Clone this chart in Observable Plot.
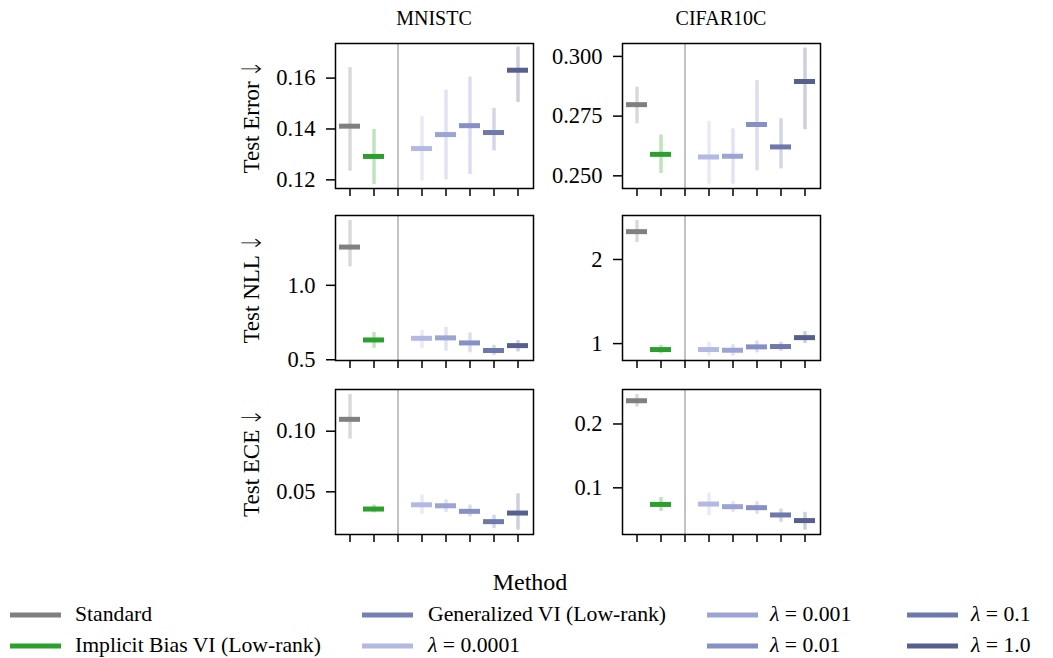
<!DOCTYPE html>
<html>
<head>
<meta charset="utf-8">
<script src="https://cdn.jsdelivr.net/npm/d3@7"></script>
<script src="https://cdn.jsdelivr.net/npm/@observablehq/plot@0.6"></script>
<style>
  body { margin: 0; background: #fff; }
  #root { position: relative; width: 1053px; height: 658px; font-family: "Liberation Serif", serif; color: #000; }
  .abs { position: absolute; }
  .title { font-size: 20px; transform: translate(-50%, -50%); white-space: nowrap; line-height: 1; }
  .lg { font-size: 21.7px; white-space: nowrap; line-height: 1; transform: translateY(-50%); }
  .sw { position: absolute; height: 5px; width: 51px; transform: translateY(-50%); }
  .ylab { font-size: 23px; white-space: nowrap; line-height: 1; transform: translate(-50%, -50%) rotate(-90deg); }
  .arr { font-family: "DejaVu Sans", sans-serif; font-size: 20px; font-weight: 300; display: inline-block; transform: scaleY(1.35); margin-left: 4px; }
</style>
</head>
<body>
<div id="root"></div>
<script>
// ---- data ----
const methods = ["Standard", "Implicit Bias VI (Low-rank)", "Generalized VI (Low-rank)",
  "λ = 0.0001", "λ = 0.001", "λ = 0.01", "λ = 0.1", "λ = 1.0"];
const dataMethods = ["Standard", "Implicit Bias VI (Low-rank)",
  "λ = 0.0001", "λ = 0.001", "λ = 0.01", "λ = 0.1", "λ = 1.0"];
const methodColors = ["#808080", "#2ca02c", "#7780b5", "#b3b9e2", "#9ca3d5", "#8790c6", "#6e78ac", "#575f8f"];
const datasets = ["MNISTC", "CIFAR10C"];
const metricLabels = ["Test Error", "Test NLL", "Test ECE"];

const mnistcErrMean = [0.1411, 0.1292, 0.1323, 0.1378, 0.1413, 0.1386, 0.1631];
const mnistcErrLo   = [0.1234, 0.1182, 0.1195, 0.1200, 0.1221, 0.1314, 0.1504];
const mnistcErrHi   = [0.1641, 0.1398, 0.1450, 0.1552, 0.1604, 0.1481, 0.1722];
const cifarErrMean  = [0.2798, 0.2590, 0.2579, 0.2582, 0.2715, 0.2621, 0.2895];
const cifarErrLo    = [0.2718, 0.2510, 0.2465, 0.2465, 0.2521, 0.2529, 0.2693];
const cifarErrHi    = [0.2871, 0.2671, 0.2728, 0.2697, 0.2899, 0.2739, 0.3035];
const mnistcNllMean = [1.257, 0.633, 0.644, 0.647, 0.613, 0.562, 0.595];
const mnistcNllLo   = [1.124, 0.577, 0.577, 0.557, 0.547, 0.529, 0.553];
const mnistcNllHi   = [1.435, 0.684, 0.697, 0.717, 0.680, 0.597, 0.629];
const cifarNllMean  = [2.331, 0.929, 0.929, 0.921, 0.961, 0.965, 1.071];
const cifarNllLo    = [2.201, 0.878, 0.850, 0.850, 0.890, 0.909, 1.000];
const cifarNllHi    = [2.465, 0.980, 1.016, 0.988, 1.031, 1.016, 1.142];
const mnistcEceMean = [0.1098, 0.0358, 0.0393, 0.0385, 0.0339, 0.0254, 0.0325];
const mnistcEceLo   = [0.0934, 0.0325, 0.0314, 0.0330, 0.0293, 0.0197, 0.0183];
const mnistcEceHi   = [0.1303, 0.0391, 0.0473, 0.0434, 0.0391, 0.0306, 0.0484];
const cifarEceMean  = [0.2364, 0.0740, 0.0746, 0.0705, 0.0689, 0.0575, 0.0487];
const cifarEceLo    = [0.2264, 0.0631, 0.0565, 0.0616, 0.0585, 0.0460, 0.0336];
const cifarEceHi    = [0.2462, 0.0849, 0.0918, 0.0782, 0.0782, 0.0668, 0.0616];

const yTicks = [[0.12, 0.14, 0.16], [0.25, 0.275, 0.30], [0.5, 1.0], [1, 2], [0.05, 0.10], [0.1, 0.2]];
const yDomains = [[0.1166, 0.1736], [0.2447, 0.3054], [0.495, 1.469], [0.799, 2.523], [0.0148, 0.1344], [0.0269, 0.254]];
const yFormats = [".2f", ".3f", ".1f", ".0f", ".2f", ".1f"];

// ---- layout ----
const root = document.getElementById("root");
const colX = [335, 622];
const rowY = [43, 215, 389];
const frameW = 198, frameH = 145;
const colorOf = m => methodColors[methods.indexOf(m)];

const panels = [
  [mnistcErrMean, mnistcErrLo, mnistcErrHi],
  [cifarErrMean, cifarErrLo, cifarErrHi],
  [mnistcNllMean, mnistcNllLo, mnistcNllHi],
  [cifarNllMean, cifarNllLo, cifarNllHi],
  [mnistcEceMean, mnistcEceLo, mnistcEceHi],
  [cifarEceMean, cifarEceLo, cifarEceHi]
];

panels.forEach(([mean, lo, hi], k) => {
  const row = Math.floor(k / 2), col = k % 2;
  const rows = dataMethods.map((m, i) => ({method: m, mean: mean[i], lo: lo[i], hi: hi[i], color: colorOf(m)}));
  const ml = 80, mt = 4, mr = 4, mb = 14;
  const chart = Plot.plot({
    width: ml + frameW + mr,
    height: mt + frameH + mb,
    marginLeft: ml, marginTop: mt, marginRight: mr, marginBottom: mb,
    style: {fontFamily: "Liberation Serif, serif", fontSize: "22.5px", color: "#000", background: "transparent", overflow: "visible"},
    x: {type: "band", domain: methods, paddingInner: 0.12, paddingOuter: 0.06},
    y: {domain: yDomains[k], ticks: yTicks[k]},
    color: {type: "identity"},
    marks: [
      Plot.ruleX([methods[2]], {x: d => d, stroke: "#999", strokeWidth: 1.2}),
      Plot.ruleX(rows, {x: "method", y1: "lo", y2: "hi", stroke: "color", strokeOpacity: 0.3, strokeWidth: 3.5}),
      Plot.tickY(rows, {x: "method", y: "mean", stroke: "color", strokeWidth: 5}),
      Plot.frame({stroke: "#000", strokeWidth: 1.5}),
      Plot.axisX({tickSize: 8, tickFormat: () => "", label: null, strokeWidth: 1.5}),
      Plot.axisY({
        ticks: yTicks[k], tickFormat: d3.format(yFormats[k]), tickSize: 9, tickPadding: 11, strokeWidth: 1.5,
        fontSize: 22.5, label: null
      })
    ]
  });
  chart.style.position = "absolute";
  chart.style.left = (colX[col] - ml) + "px";
  chart.style.top = (rowY[row] - mt) + "px";
  root.appendChild(chart);
});

// y labels
metricLabels.forEach((t, r) => {
  const d = document.createElement("div");
  d.className = "abs ylab";
  d.innerHTML = t + '<span class="arr">↓</span>';
  d.style.left = "251px";
  d.style.top = (rowY[r] + frameH / 2 + 1) + "px";
  root.appendChild(d);
});

// titles
datasets.forEach((t, c) => {
  const d = document.createElement("div");
  d.className = "abs title";
  d.textContent = t;
  d.style.left = (colX[c] + frameW / 2) + "px";
  d.style.top = "18px";
  root.appendChild(d);
});

// legend
const lgTitle = document.createElement("div");
lgTitle.className = "abs title";
lgTitle.textContent = "Method";
lgTitle.style.fontSize = "24px";
lgTitle.style.left = "530px";
lgTitle.style.top = "582px";
root.appendChild(lgTitle);

const swX = [10, 362, 707, 907];
const txX = [75, 428, 770, 971];
const lgY = [615, 646];
methods.forEach((m, i) => {
  const c = Math.floor(i / 2), r = i % 2;
  const sw = document.createElement("div");
  sw.className = "sw";
  sw.style.left = swX[c] + "px";
  sw.style.top = lgY[r] + "px";
  sw.style.background = methodColors[i];
  root.appendChild(sw);
  const t = document.createElement("div");
  t.className = "abs lg";
  t.style.left = txX[c] + "px";
  t.style.top = lgY[r] + "px";
  if (m.startsWith("λ")) t.innerHTML = "<i>λ</i>" + m.slice(1);
  else t.textContent = m;
  root.appendChild(t);
});
</script>
</body>
</html>
